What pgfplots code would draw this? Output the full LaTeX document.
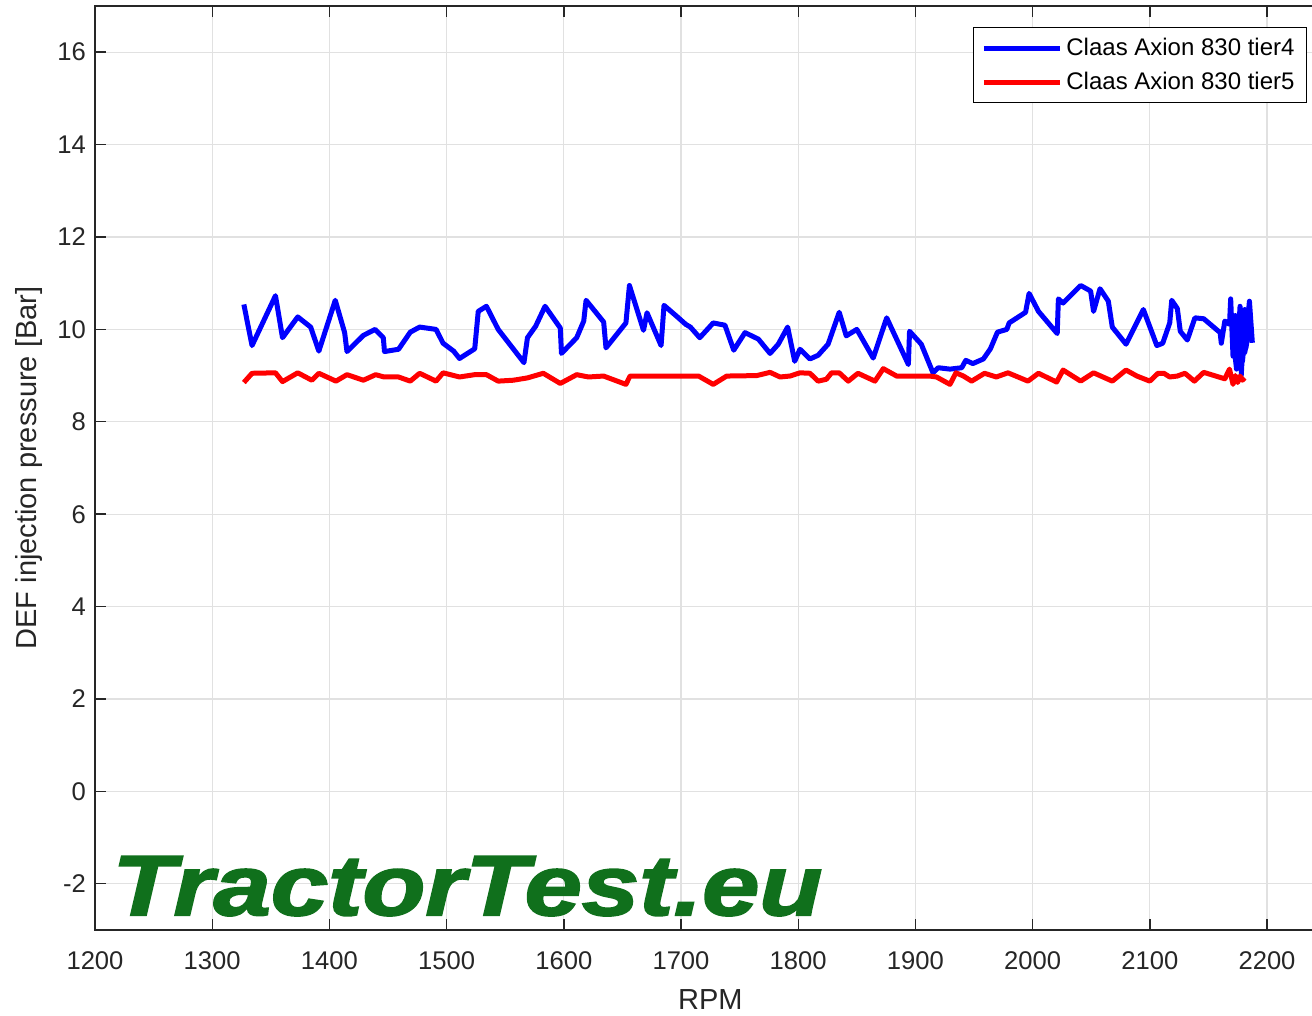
\documentclass[border=0pt]{standalone}
\usepackage{pgfplots}
\pgfplotsset{compat=1.18}
\usepackage{fontspec}
\setmainfont{Liberation Sans}
\newfontfamily\logofont{Liberation Sans Bold Italic}[FakeBold=2]
\definecolor{axgray}{RGB}{38,38,38}
\definecolor{gridgray}{RGB}{225,225,225}
\definecolor{logogreen}{RGB}{16,112,28}
\begin{document}
\begin{tikzpicture}
\useasboundingbox (-47.5pt,-43pt) rectangle (608.5pt,465pt);
\begin{axis}[
  scale only axis,
  width=615.3pt, height=462pt,
  xmin=1200, xmax=2250, ymin=-3, ymax=17,
  xtick={1200,1300,...,2200},
  ytick={-2,0,...,16},
  /pgf/number format/assume math mode=true,
  /pgf/number format/1000 sep={},
  tick label style={font=\fontsize{12.8}{15}\selectfont, text=axgray},
  xticklabel style={yshift=-7.5pt},
  yticklabel style={xshift=-1pt},
  label style={font=\fontsize{14.5}{17}\selectfont, text=axgray},
  xlabel={RPM},
  ylabel={DEF injection pressure [Bar]},
  xlabel style={yshift=-3pt},
  ylabel style={yshift=0.5pt},
  axis line style={axgray, line width=0.7pt},
  tick style={axgray, line width=0.7pt},
  tick align=inside,
  major tick length=5.5pt,
  xmajorgrids, ymajorgrids,
  grid style={gridgray, line width=0.6pt},
  legend style={at={(rel axis cs:0.985,0.977)}, anchor=north east,
    font=\fontsize{12}{14}\selectfont, draw=black, line width=0.6pt,
    inner xsep=4pt, inner ysep=3pt, row sep=3pt},
  legend cell align=left,
  legend image code/.code={\draw[#1, line width=2.5pt] (0pt,0pt) -- (38pt,0pt);},
  clip=false,
]
\addplot[blue, line width=2.5pt, line join=round] coordinates {
(1327,10.54)(1334,9.65)(1354,10.73)(1360,9.82)(1373,10.27)(1384,10.05)(1391,9.53)
(1405,10.63)(1413,9.93)(1415,9.52)(1429,9.87)(1439,10.00)(1446,9.82)(1447,9.52)
(1459,9.57)(1469,9.94)(1477,10.05)(1491,10.00)(1497,9.70)(1506,9.53)(1511,9.37)
(1524,9.58)(1527,10.39)(1534,10.50)(1544,10.00)(1566,9.28)(1569,9.82)(1576,10.07)
(1584,10.50)(1597,10.03)(1598,9.48)(1611,9.82)(1617,10.18)(1619,10.63)(1634,10.16)
(1636,9.60)(1653,10.14)(1656,10.95)(1668,9.98)(1671,10.36)(1683,9.65)(1685.5,10.52)
(1696,10.29)(1704,10.11)(1708,10.05)(1716,9.82)(1727.5,10.14)(1737.5,10.09)(1745,9.55)
(1754.6,9.93)(1766,9.79)(1776,9.48)(1783,9.68)(1791,10.05)(1797,9.31)(1801.5,9.57)
(1810,9.36)(1817,9.44)(1825.5,9.68)(1835,10.37)(1841,9.86)(1850,10.00)(1864,9.38)
(1875.5,10.25)(1894,9.24)(1895,9.96)(1905,9.68)(1915,9.06)(1919.5,9.17)(1929.5,9.14)
(1939.5,9.17)(1943,9.33)(1949,9.26)(1958,9.36)(1964,9.58)(1970,9.94)(1978,10.00)
(1980,10.14)(1994,10.37)(1997,10.78)(2005,10.39)(2021,9.91)(2022,10.66)(2026,10.57)
(2041,10.95)(2049.5,10.83)(2052,10.39)(2057.5,10.88)(2064.6,10.61)(2068,10.05)
(2079.7,9.68)(2094.5,10.43)(2106,9.65)(2111,9.70)(2117,10.14)(2118.7,10.63)
(2123.5,10.45)(2126,9.96)(2132,9.77)(2138.5,10.25)(2146,10.23)(2160,9.93)(2161,9.70)
(2164,10.18)(2168,10.11)(2169,10.66)(2171,9.42)(2173,10.3)(2172,9.6)(2174,9.14)(2177,10.5)
(2176,9.5)(2179,10.2)(2178,9.0)(2181,10.43)(2179,9.3)(2183,10.3)(2182,9.6)(2184,9.9)(2181,9.5)
(2185,10.61)(2187.5,9.71)
};
\addlegendentry{Claas Axion 830 tier4}
\addplot[red, line width=2.5pt, line join=round] coordinates {
(1327,8.85)(1334,9.05)(1354,9.06)(1360,8.87)(1373,9.06)(1385,8.90)(1391,9.05)
(1405.6,8.88)(1415,9.02)(1429,8.90)(1439.5,9.02)(1446.6,8.97)(1459,8.97)(1469,8.88)
(1477,9.05)(1491,8.88)(1497,9.06)(1511,8.97)(1524,9.02)(1534,9.02)(1544,8.88)
(1557,8.90)(1569,8.95)(1582.5,9.05)(1597,8.83)(1611,9.02)(1621,8.97)(1634,8.99)
(1653,8.81)(1656.5,8.99)(1685,8.99)(1715,8.99)(1727.5,8.81)(1739,8.99)(1764.6,9.00)
(1776,9.07)(1784.5,8.97)(1793,8.99)(1801.5,9.06)(1810,9.05)(1817,8.88)(1824,8.92)
(1828.5,9.06)(1835,9.06)(1842.7,8.88)(1851,9.05)(1865.5,8.88)(1872.6,9.15)(1884,8.99)
(1912,8.99)(1918,8.97)(1929.5,8.81)(1934.6,9.06)(1941,8.99)(1948,8.88)(1959,9.05)
(1969,8.97)(1979,9.06)(1996,8.88)(2005,9.05)(2020.5,8.86)(2026,9.12)(2041,8.88)
(2052,9.06)(2068,8.88)(2079.7,9.12)(2089,8.99)(2100,8.88)(2107,9.05)(2112,9.05)
(2117,8.97)(2123.5,8.99)(2130,9.05)(2138,8.88)(2146,9.07)(2164,8.93)(2168,9.14)
(2171,8.81)(2173,9.0)(2175,8.85)(2177,8.99)(2179,8.9)(2181,8.95)
};
\addlegendentry{Claas Axion 830 tier5}
\node[anchor=base west, inner sep=0pt, text=logogreen] at (axis cs:1214.5,-2.68)
  {\resizebox{355pt}{29.5pt}{\fontsize{45}{50}\logofont TractorTest.eu}};
\end{axis}
\end{tikzpicture}
\end{document}
